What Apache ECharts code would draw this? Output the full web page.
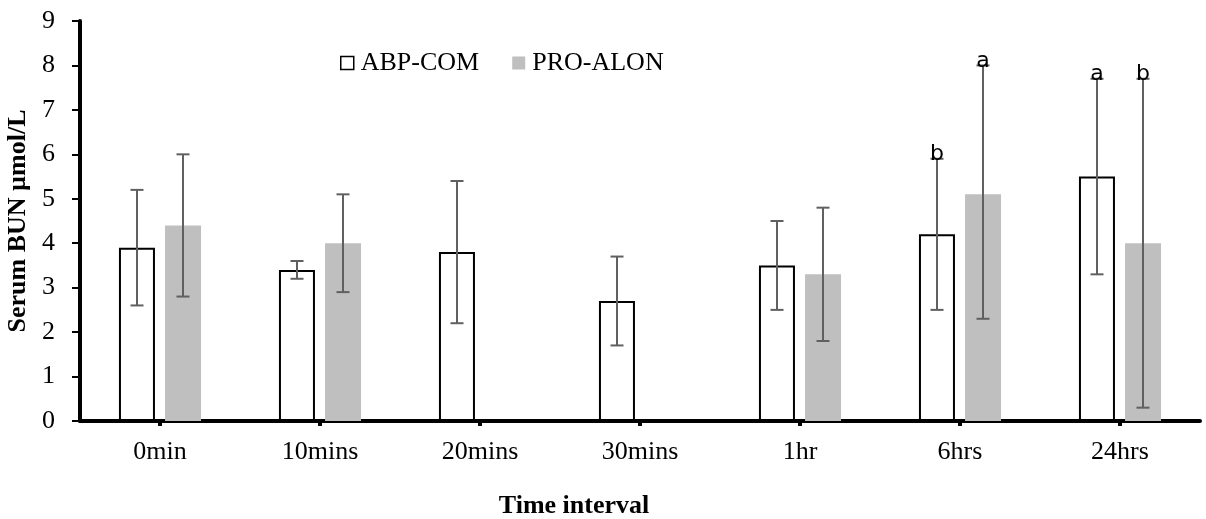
<!DOCTYPE html>
<html>
<head>
<meta charset="utf-8">
<script src="https://cdn.jsdelivr.net/npm/echarts@6/dist/echarts.min.js"></script>
<style>
html,body{margin:0;padding:0;background:#fff;}
#chart{width:1206px;height:519px;}
</style>
</head>
<body>
<div id="chart"></div>
<script>
const categories = ['0min','10mins','20mins','30mins','1hr','6hrs','24hrs'];
const abpMean = [3.9, 3.4, 3.8, 2.7, 3.5, 4.2, 5.5];
const abpLow  = [2.6, 3.2, 2.2, 1.7, 2.5, 2.5, 3.3];
const abpHigh = [5.2, 3.6, 5.4, 3.7, 4.5, 5.9, 7.7];
const proMean = [4.4, 4.0, null, null, 3.3, 5.1, 4.0];
const proLow  = [2.8, 2.9, null, null, 1.8, 2.3, 0.3];
const proHigh = [6.0, 5.1, null, null, 4.8, 8.0, 7.7];
const abpLetters = ['', '', '', '', '', 'b', 'a'];
const proLetters = ['', '', '', '', '', 'a', 'b'];
const yTicks = [0,1,2,3,4,5,6,7,8,9];

const SERIF = "'Liberation Serif','Times New Roman',serif";
const BAR_FRAC = 0.225;
const GAP_FRAC = 0.0625;

function errData(low, high) {
  return categories.map((c, i) => [i, low[i], high[i]]);
}

function errRender(side) {
  return function (params, api) {
    const i = api.value(0);
    const lo = api.value(1);
    const hi = api.value(2);
    if (lo == null || hi == null || isNaN(lo) || isNaN(hi)) return null;
    const band = api.size([1, 0])[0];
    const off = side * (band * BAR_FRAC + band * GAP_FRAC) / 2;
    const pLo = api.coord([i, lo]);
    const pHi = api.coord([i, hi]);
    const x = pLo[0] + off;
    const cap = 6.5;
    const st = { stroke: '#606060', lineWidth: 2 };
    const children = [
      { type: 'line', shape: { x1: x, y1: pLo[1], x2: x, y2: pHi[1] }, style: st },
      { type: 'line', shape: { x1: x - cap, y1: pLo[1], x2: x + cap, y2: pLo[1] }, style: st },
      { type: 'line', shape: { x1: x - cap, y1: pHi[1], x2: x + cap, y2: pHi[1] }, style: st }
    ];
    const letter = (side < 0 ? abpLetters : proLetters)[params.dataIndex];
    if (letter) {
      children.push({
        type: 'text', z2: 10,
        style: { text: letter, x: x, y: pHi[1] - 4, align: 'center', verticalAlign: 'middle',
                 font: "22px 'DejaVu Sans', sans-serif", fill: '#000' }
      });
    }
    return { type: 'group', children: children };
  };
}

const chart = echarts.init(document.getElementById('chart'), null, { renderer: 'canvas' });
chart.setOption({
  animation: false,
  backgroundColor: '#fff',
  grid: { left: 80, right: 6, top: 21, bottom: 98, containLabel: false, outerBoundsMode: 'none' },
  legend: {
    left: 340, top: 50,
    padding: 0,
    itemWidth: 13, itemHeight: 13, itemGap: 33,
    textStyle: { fontFamily: SERIF, fontSize: 26, color: '#000', padding: [0, 0, 0, 2] },
    data: [
      { name: 'ABP-COM', icon: 'rect', itemStyle: { color: '#fff', borderColor: '#000', borderWidth: 1.5 } },
      { name: 'PRO-ALON', icon: 'rect', itemStyle: { color: '#bfbfbf', borderWidth: 0 } }
    ]
  },
  xAxis: {
    type: 'category',
    data: categories,
    name: 'Time interval',
    nameLocation: 'middle',
    nameGap: 72,
    nameTextStyle: { fontFamily: SERIF, fontSize: 26, fontWeight: 'bold', color: '#000', padding: [0, 132, 0, 0] },
    axisLine: { lineStyle: { color: '#000', width: 4 } },
    axisTick: { show: true, alignWithLabel: true, length: 5, lineStyle: { color: '#000', width: 4 } },
    axisLabel: { fontFamily: SERIF, fontSize: 26, color: '#000', margin: 18 }
  },
  yAxis: {
    type: 'value',
    min: 0, max: 9, interval: 1,
    name: 'Serum BUN µmol/L',
    nameLocation: 'middle',
    nameGap: 45,
    nameTextStyle: { fontFamily: SERIF, fontSize: 26, fontWeight: 'bold', color: '#000' },
    axisLine: { show: true, lineStyle: { color: '#000', width: 4 } },
    axisTick: { show: true, inside: false, length: 8, lineStyle: { color: '#000', width: 2 } },
    splitLine: { show: false },
    axisLabel: { fontFamily: SERIF, fontSize: 26, color: '#000', margin: 25,
      formatter: function (v) { return yTicks.indexOf(v) >= 0 ? String(v) : ''; } }
  },
  series: [
    {
      name: 'ABP-COM', type: 'bar', data: abpMean,
      barWidth: (BAR_FRAC * 100) + '%', barGap: '28%',
      itemStyle: { color: '#fff', borderColor: '#000', borderWidth: 2 }
    },
    {
      name: 'PRO-ALON', type: 'bar', data: proMean,
      barWidth: (BAR_FRAC * 100) + '%',
      itemStyle: { color: '#bfbfbf', borderWidth: 0 }
    },
    {
      name: 'errA', type: 'custom', renderItem: errRender(-1),
      data: errData(abpLow, abpHigh), z: 5, silent: true
    },
    {
      name: 'errP', type: 'custom', renderItem: errRender(1),
      data: errData(proLow, proHigh), z: 5, silent: true
    }
  ]
});
</script>
</body>
</html>
